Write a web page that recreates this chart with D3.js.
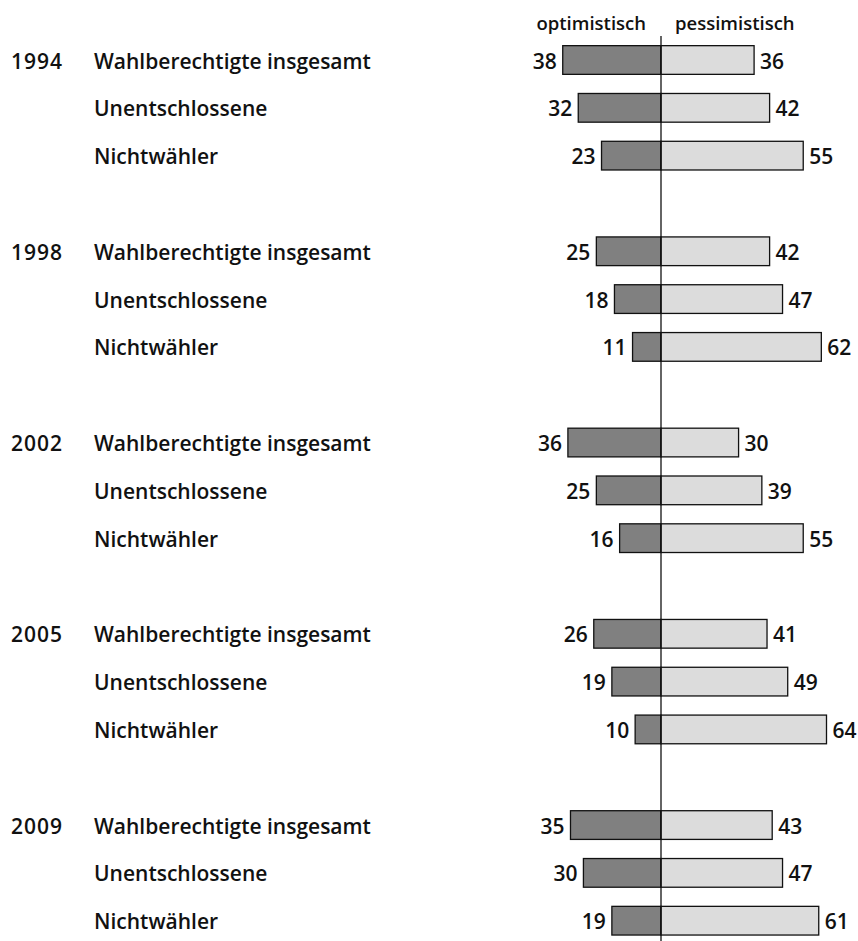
<!DOCTYPE html>
<html>
<head>
<meta charset="utf-8">
<script src="https://cdn.jsdelivr.net/npm/d3@7"></script>
<style>
  html, body { margin: 0; padding: 0; background: #fff; }
  svg { display: block; }
  text { font-family: "Open Sans", "DejaVu Sans", sans-serif; font-weight: 600; fill: #111; }
</style>
</head>
<body>
<svg id="chart" width="858" height="941"></svg>
<script>
const years = ["1994", "1998", "2002", "2005", "2009"];
const groups = ["Wahlberechtigte insgesamt", "Unentschlossene", "Nichtwähler"];
const optimistisch = [
  [38, 32, 23],
  [25, 18, 11],
  [36, 25, 16],
  [26, 19, 10],
  [35, 30, 19]
];
const pessimistisch = [
  [36, 42, 55],
  [42, 47, 62],
  [30, 39, 55],
  [41, 49, 64],
  [43, 47, 61]
];
const headers = ["optimistisch", "pessimistisch"];

const svg = d3.select("#chart");
const cx = 661;
const fontSize = 21;

// Build rows: 3 per year plus a spacer row between years
const rows = [];
years.forEach((yr, yi) => {
  groups.forEach((g, gi) => {
    rows.push({ idx: yi * 4 + gi, year: gi === 0 ? yr : "", group: g,
                opt: optimistisch[yi][gi], pes: pessimistisch[yi][gi] });
  });
});
const nRows = years.length * 4 - 1;

const y = d3.scaleBand()
  .domain(d3.range(nRows))
  .range([36.1, 944.6])
  .paddingInner(0.4)
  .paddingOuter(0.2);

const x = d3.scaleLinear().domain([0, 64]).range([0, 165.5]);

const g = svg.append("g");

const row = g.selectAll("g.row").data(rows).join("g").attr("class", "row");

row.append("rect")
  .attr("x", d => cx - x(d.opt))
  .attr("y", d => y(d.idx))
  .attr("width", d => x(d.opt))
  .attr("height", y.bandwidth())
  .attr("fill", "#808080")
  .attr("stroke", "#111")
  .attr("stroke-width", 1.3);

row.append("rect")
  .attr("x", cx)
  .attr("y", d => y(d.idx))
  .attr("width", d => x(d.pes))
  .attr("height", y.bandwidth())
  .attr("fill", "#dcdcdc")
  .attr("stroke", "#111")
  .attr("stroke-width", 1.3);

const base = d => y(d.idx) + y.bandwidth() / 2 + 8.5;

row.append("text")
  .attr("x", d => cx - x(d.opt) - 6)
  .attr("y", base)
  .attr("text-anchor", "end")
  .attr("font-size", fontSize)
  .text(d => d.opt);

row.append("text")
  .attr("x", d => cx + x(d.pes) + 6)
  .attr("y", base)
  .attr("font-size", fontSize)
  .text(d => d.pes);

row.append("text")
  .attr("x", 11)
  .attr("y", base)
  .attr("font-size", fontSize)
  .attr("letter-spacing", 1)
  .text(d => d.year);

row.append("text")
  .attr("x", 94)
  .attr("y", base)
  .attr("font-size", fontSize)
  .text(d => d.group);

// center line
g.append("line")
  .attr("x1", cx).attr("x2", cx)
  .attr("y1", 36).attr("y2", 941)
  .attr("stroke", "#111")
  .attr("stroke-width", 1.3);

// headers
g.append("text")
  .attr("x", cx - 15).attr("y", 30)
  .attr("text-anchor", "end")
  .attr("font-size", 18.5)
  .text(headers[0]);
g.append("text")
  .attr("x", cx + 14).attr("y", 30)
  .attr("font-size", 18.5)
  .text(headers[1]);
</script>
</body>
</html>
